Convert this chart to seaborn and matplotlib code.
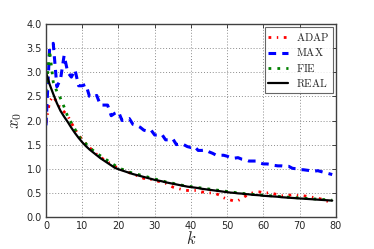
import numpy as np
import pandas as pd
import matplotlib
matplotlib.use('Agg')
import matplotlib.pyplot as plt
import seaborn as sns

k = list(range(80))

adap = [1.95, 2.40, 2.50, 2.38, 2.25, 2.18, 2.10, 1.95, 1.82, 1.70,
        1.60, 1.52, 1.44, 1.37, 1.30, 1.24, 1.19, 1.14, 1.10, 1.05,
        1.01, 0.98, 0.95, 0.92, 0.88, 0.86, 0.83, 0.80, 0.80, 0.78,
        0.76, 0.74, 0.72, 0.70, 0.66, 0.62, 0.60, 0.58, 0.56, 0.55,
        0.55, 0.55, 0.54, 0.52, 0.51, 0.50, 0.50, 0.48, 0.45, 0.40,
        0.37, 0.35, 0.33, 0.34, 0.38, 0.43, 0.47, 0.50, 0.52, 0.52,
        0.50, 0.50, 0.50, 0.48, 0.46, 0.44, 0.44, 0.45, 0.46, 0.45,
        0.44, 0.44, 0.43, 0.42, 0.40, 0.39, 0.37, 0.34, 0.32, 0.31]

max_ = [1.90, 3.50, 3.60, 2.70, 2.85, 3.35, 3.00, 2.90, 3.05, 2.72,
        2.72, 2.75, 2.50, 2.48, 2.52, 2.32, 2.32, 2.32, 2.10, 2.15,
        2.18, 2.00, 2.02, 2.04, 1.92, 1.90, 1.86, 1.80, 1.78, 1.80,
        1.70, 1.70, 1.71, 1.60, 1.60, 1.62, 1.50, 1.52, 1.50, 1.46,
        1.44, 1.46, 1.38, 1.38, 1.39, 1.35, 1.32, 1.28, 1.28, 1.28,
        1.26, 1.23, 1.22, 1.23, 1.20, 1.19, 1.16, 1.16, 1.16, 1.12,
        1.10, 1.10, 1.09, 1.07, 1.06, 1.06, 1.05, 1.05, 1.01, 1.00,
        0.98, 0.98, 0.97, 0.96, 0.95, 0.96, 0.94, 0.92, 0.90, 0.88]

fie = [2.60, 3.45, 2.80, 2.60, 2.46, 2.28, 2.08, 1.95, 1.82, 1.68,
       1.58, 1.52, 1.44, 1.38, 1.32, 1.27, 1.22, 1.17, 1.12, 1.07,
       1.02, 0.99, 0.96, 0.93, 0.91, 0.89, 0.87, 0.85, 0.83, 0.81,
       0.79, 0.77, 0.75, 0.73, 0.71, 0.70, 0.68, 0.67, 0.65, 0.64,
       0.63, 0.62, 0.61, 0.60, 0.59, 0.58, 0.57, 0.56, 0.55, 0.54,
       0.53, 0.52, 0.51, 0.50, 0.49, 0.485, 0.48, 0.47, 0.465, 0.46,
       0.45, 0.445, 0.44, 0.435, 0.43, 0.42, 0.415, 0.41, 0.405, 0.40,
       0.395, 0.39, 0.385, 0.38, 0.375, 0.37, 0.365, 0.36, 0.355, 0.35]

real = [3.00, 2.75, 2.55, 2.36, 2.20, 2.08, 1.97, 1.85, 1.74, 1.64,
        1.55, 1.47, 1.40, 1.34, 1.28, 1.22, 1.17, 1.12, 1.07, 1.02,
        0.99, 0.965, 0.94, 0.915, 0.89, 0.87, 0.85, 0.83, 0.81, 0.79,
        0.77, 0.755, 0.74, 0.72, 0.705, 0.69, 0.675, 0.66, 0.645, 0.63,
        0.62, 0.61, 0.60, 0.585, 0.575, 0.565, 0.555, 0.545, 0.535, 0.525,
        0.515, 0.505, 0.50, 0.49, 0.485, 0.475, 0.47, 0.46, 0.455, 0.45,
        0.44, 0.435, 0.43, 0.425, 0.42, 0.41, 0.405, 0.40, 0.395, 0.39,
        0.385, 0.38, 0.375, 0.37, 0.365, 0.36, 0.355, 0.35, 0.345, 0.34]

sns.set_style('white')
plt.rcParams['mathtext.fontset'] = 'cm'
plt.rcParams['font.family'] = ['DejaVu Sans']

fig = plt.figure(figsize=(3.74, 2.49), dpi=100)
ax = fig.add_axes([0.123, 0.1285, 0.775, 0.775])

df = pd.DataFrame({'k': k, 'ADAP': adap, 'MAX': max_, 'FIE': fie, 'REAL': real})

sns.lineplot(data=df, x='k', y='ADAP', ax=ax, color='r', lw=2,
             label=r'$\mathrm{ADAP}$')
ax.lines[-1].set_linestyle((0, (1, 2, 0.5, 2)))
sns.lineplot(data=df, x='k', y='MAX', ax=ax, color='b', lw=2.2,
             label=r'$\mathrm{MAX}$')
ax.lines[-1].set_linestyle((0, (2.5, 2)))
sns.lineplot(data=df, x='k', y='FIE', ax=ax, color='g', lw=2,
             label=r'$\mathrm{FIE}$')
ax.lines[-1].set_linestyle((0, (1, 2.2)))
sns.lineplot(data=df, x='k', y='REAL', ax=ax, color='k', lw=1.6,
             label=r'$\mathrm{REAL}$')

ax.set_xlim(0, 80)
ax.set_ylim(0, 4)
ax.set_xticks(range(0, 81, 10))
ax.set_yticks(np.arange(0, 4.01, 0.5))
ax.set_yticklabels(['%.1f' % v for v in np.arange(0, 4.01, 0.5)])
ax.grid(True, linestyle=(0, (1, 2)), color='0.55', lw=0.7)
ax.tick_params(direction='in', top=True, right=True, labelsize=7, length=3,
               width=0.6, pad=3)
for s in ax.spines.values():
    s.set_color('0.25')
    s.set_linewidth(1.0)
ax.set_xlabel(r'$k$', fontsize=12, labelpad=-1)
ax.set_ylabel(r'$x_0$', fontsize=12, labelpad=2)

leg = ax.legend(loc='upper right', fontsize=7.8, handlelength=1.8,
                frameon=True, fancybox=False, borderaxespad=0.3,
                labelspacing=0.3, handletextpad=0.7, borderpad=0.35)
leg.get_frame().set_edgecolor('0.25')
leg.get_frame().set_linewidth(0.8)

fig.savefig('out.png', dpi=100)
